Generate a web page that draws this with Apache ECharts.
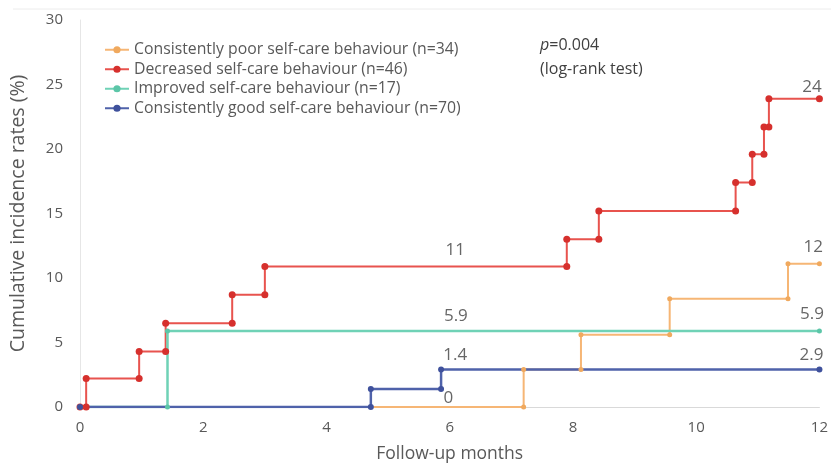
<!DOCTYPE html>
<html>
<head>
<meta charset="utf-8">
<script src="https://cdn.jsdelivr.net/npm/echarts@6/dist/echarts.min.js"></script>
<style>
html,body{margin:0;padding:0;background:#fff;}
#chart{width:831px;height:468px;}
</style>
</head>
<body>
<div id="chart"></div>
<script>
// ---- data ----
const seriesNames = [
  'Consistently poor self-care behaviour (n=34)',
  'Decreased self-care behaviour (n=46)',
  'Improved self-care behaviour (n=17)',
  'Consistently good self-care behaviour (n=70)'
];
// event times (months) and cumulative incidence (%) after each event
const poorTimes = [0, 7.2, 8.13, 9.57, 11.49, 12];
const poorValues = [0, 2.9, 5.6, 8.4, 11.1, 11.1];
const decTimes = [0, 0.1, 0.96, 1.39, 2.47, 3.0, 7.9, 8.42, 10.64, 10.91, 11.1, 11.18, 12];
const decValues = [0, 2.2, 4.3, 6.5, 8.7, 10.9, 13.0, 15.2, 17.4, 19.6, 21.7, 23.9, 23.9];
const impTimes = [0, 1.42, 12];
const impValues = [0, 5.9, 5.9];
const goodTimes = [0, 4.72, 5.86, 12];
const goodValues = [0, 1.4, 2.9, 2.9];
// text annotations (data labels) [month, %, text]
const annX = [6.09, 6.1, 6.09, 5.98, 11.88, 11.9, 11.88, 11.87];
const annY = [12.14, 7.05, 3.99, 0.7, 24.8, 12.37, 7.2, 3.99];
const annText = ['11', '5.9', '1.4', '0', '24', '12', '5.9', '2.9'];
const xTicks = [0, 2, 4, 6, 8, 10, 12];
const yTicks = [0, 5, 10, 15, 20, 25, 30];

function stepPoints(times, values) {
  const pts = [[times[0], values[0]]];
  for (let i = 1; i < times.length; i++) {
    pts.push([times[i], values[i - 1]]);
    if (values[i] !== values[i - 1]) pts.push([times[i], values[i]]);
  }
  return pts;
}

const colors = {
  poor: {line: '#f6b675', dot: '#f0a95e'},
  dec: {line: '#e8534e', dot: '#d6302d'},
  imp: {line: '#6fd2b6', dot: '#5cc6a8'},
  good: {line: '#4f62aa', dot: '#3f519c'}
};

const chart = echarts.init(document.getElementById('chart'), null, {renderer: 'canvas'});
const font = '"Open Sans", "Noto Sans", sans-serif';

function lineSeries(name, pts, c, sym, lw) {
  return {
    name: name, type: 'line', data: pts, symbol: 'circle', symbolSize: sym,
    showAllSymbol: true,
    lineStyle: {color: c.line, width: lw},
    itemStyle: {color: c.dot},
    emphasis: {disabled: true},
    animation: false
  };
}

chart.setOption({
  animation: false,
  textStyle: {fontFamily: font},
  grid: {left: 77, right: 3, top: 20, bottom: 57, containLabel: false},
  title: {
    text: '{i|p}=0.004\n(log-rank test)',
    left: 540, top: 33, padding: 0,
    textStyle: {
      fontFamily: font, fontSize: 16, fontWeight: 'normal', color: '#404040', lineHeight: 24,
      rich: {i: {fontFamily: font, fontStyle: 'italic', fontSize: 16, color: '#404040', lineHeight: 24}}
    }
  },
  legend: {
    orient: 'vertical', left: 104, top: 40, padding: 0,
    itemWidth: 24, itemHeight: 9, itemGap: 0,
    textStyle: {fontFamily: font, fontSize: 15.8, lineHeight: 19.5, color: '#595959'},
    data: seriesNames
  },
  xAxis: {
    type: 'value', min: 0, max: 12, interval: 2,
    name: 'Follow-up months', nameLocation: 'middle', nameGap: 38,
    nameTextStyle: {fontFamily: font, fontSize: 17.5, color: '#595959'},
    axisLine: {show: true, lineStyle: {color: '#d9d9d9', width: 1}},
    axisTick: {show: false},
    splitLine: {show: false},
    axisLabel: {fontFamily: font, fontSize: 15, color: '#595959', margin: 13,
      formatter: v => xTicks.includes(v) ? String(v) : ''}
  },
  yAxis: {
    type: 'value', min: 0, max: 30, interval: 5,
    name: 'Cumulative incidence rates (%)', nameLocation: 'middle', nameGap: 52,
    nameTextStyle: {fontFamily: font, fontSize: 19.5, color: '#595959'},
    axisLine: {show: true, lineStyle: {color: '#e6e6e6', width: 1}},
    axisTick: {show: false},
    splitLine: {show: false},
    axisLabel: {fontFamily: font, fontSize: 15, color: '#595959', margin: 17,
      formatter: v => yTicks.includes(v) ? String(v) : ''}
  },
  graphic: [{
    type: 'line', shape: {x1: 13, y1: 9, x2: 831, y2: 9},
    style: {stroke: '#ececec', lineWidth: 1}, silent: true
  }],
  series: [
    lineSeries(seriesNames[0], stepPoints(poorTimes, poorValues), colors.poor, 5, 2),
    lineSeries(seriesNames[1], stepPoints(decTimes, decValues), colors.dec, 7, 2),
    lineSeries(seriesNames[2], stepPoints(impTimes, impValues), colors.imp, 5, 2.5),
    lineSeries(seriesNames[3], stepPoints(goodTimes, goodValues), colors.good, 6, 2.5),
    {
      name: 'labels', type: 'scatter', symbolSize: 0, silent: true, z: 5,
      data: annX.map((x, i) => ({value: [x, annY[i]], text: annText[i]})),
      label: {
        show: true, position: 'inside', fontFamily: font, fontSize: 17, color: '#404040',
        formatter: p => p.data.text
      },
      animation: false
    }
  ]
});
</script>
</body>
</html>
